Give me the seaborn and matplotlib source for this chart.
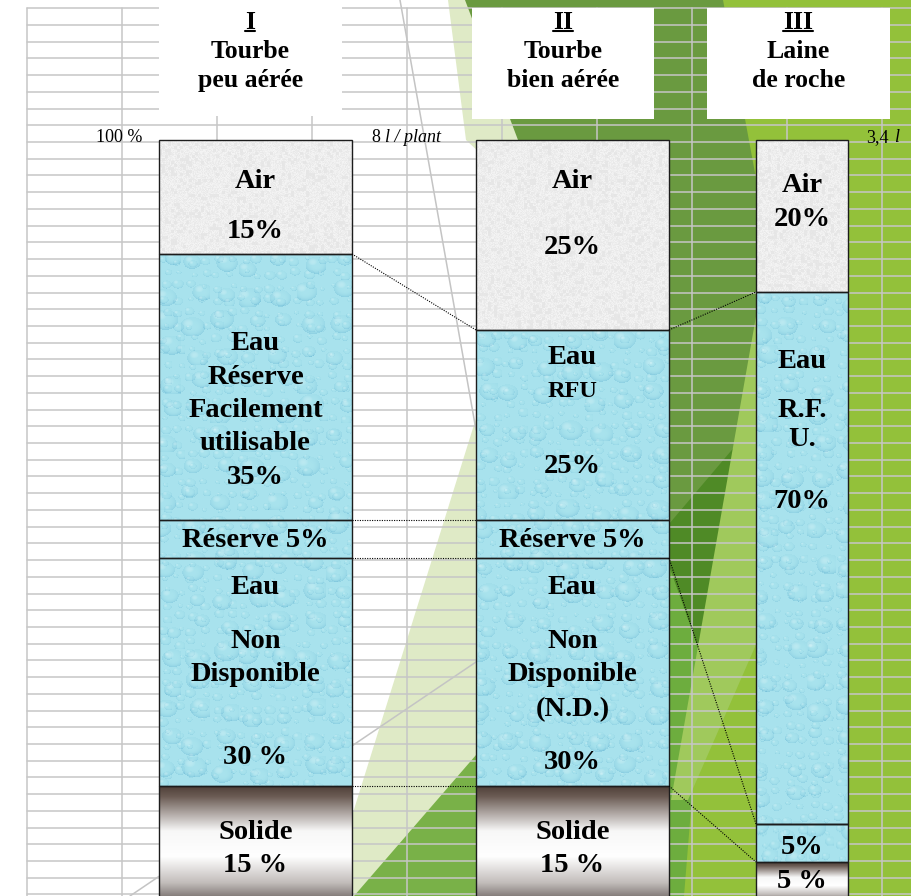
import numpy as np
import matplotlib
matplotlib.use("Agg")
import matplotlib.pyplot as plt
from matplotlib import font_manager as fm
from matplotlib import patheffects as pe
from matplotlib.patches import Polygon, Rectangle
import seaborn as sns

# ---------------------------------------------------------------- data
numerals = ["I", "II", "III"]
substrates = [["Tourbe", "peu aérée"], ["Tourbe", "bien aérée"], ["Laine", "de roche"]]
# share of the substrate volume (%), listed from top to bottom of each column
air = [15, 25, 20]
eau_rfu = [35, 25, 70]
reserve = [5, 5, 0]
eau_nd = [30, 30, 5]
solide = [15, 15, 5]

layers = ["air", "rfu", "reserve", "nd", "solide"]
values = {"air": air, "rfu": eau_rfu, "reserve": reserve, "nd": eau_nd, "solide": solide}

# text lines written in each block: (template, position from the block top, size)
BIG, SMALL = 20.5, 17.5
labels = {
    "air": [
        [("Air", .36, BIG), ("{v}%", .80, BIG)],
        [("Air", .216, BIG), ("{v}%", .568, BIG)],
        [("Air", .30, BIG), ("{v}%", .52, BIG)],
    ],
    "rfu": [
        [("Eau", .338, BIG), ("Réserve", .466, BIG), ("Facilement", .59, BIG),
         ("utilisable", .714, BIG), ("{v}%", .842, BIG)],
        [("Eau", .147, BIG), ("RFU", .326, SMALL), ("{v}%", .716, BIG)],
        [("Eau", .13, BIG), ("R.F.", .222, BIG), ("U.", .278, BIG), ("{v}%", .393, BIG)],
    ],
    "reserve": [
        [("Réserve {v}%", .55, BIG)],
        [("Réserve {v}%", .55, BIG)],
        [],
    ],
    "nd": [
        [("Eau", .13, BIG), ("Non", .368, BIG), ("Disponible", .513, BIG), ("{v} %", .877, BIG)],
        [("Eau", .13, BIG), ("Non", .368, BIG), ("Disponible", .513, BIG),
         ("(N.D.)", .667, BIG), ("{v}%", .899, BIG)],
        [("{v}%", .62, BIG)],
    ],
    "solide": [
        [("Solide", .41, BIG), ("{v} %", .70, BIG)],
        [("Solide", .41, BIG), ("{v} %", .70, BIG)],
        [("{v} %", .50, BIG)],
    ],
}

# ---------------------------------------------------------------- layout
W, H = 912, 896
PX_PER_PCT = 7.6
TOP_PX = 140
bar_left = [159, 476, 756]
bar_width = [193, 193, 92]
centers = [l + w / 2 for l, w in zip(bar_left, bar_width)]

sns.set_theme(style="white")
SERIF = ["Liberation Serif", "DejaVu Serif"]
plt.rcParams["font.family"] = SERIF
plt.rcParams["text.color"] = "black"


def _num_weight(w):
    if isinstance(w, str):
        return fm.weight_dict.get(w, 400)
    return w


HAS_BOLD = any(f.name == "Liberation Serif" and _num_weight(f.weight) >= 600
               for f in fm.fontManager.ttflist)
HEAVY = [pe.withStroke(linewidth=1.1, foreground="black")]


def bold_kw(size):
    """Bold serif text; thickened with a stroke when no bold face is installed."""
    if HAS_BOLD:
        return dict(family=SERIF, fontweight="bold", fontsize=size, color="black")
    return dict(family=SERIF, fontsize=size, path_effects=HEAVY, color="black")


fig = plt.figure(figsize=(W / 100, H / 100), dpi=100)
fig.patch.set_facecolor("white")

# backdrop axes in pixel units (y pointing down)
bg = fig.add_axes([0, 0, 1, 1])
bg.set_xlim(0, W)
bg.set_ylim(H, 0)
bg.axis("off")

# bar axes: x in pixel units, y in percent of volume
ax = fig.add_axes([0, 0, 1, 1], zorder=2)
ax.patch.set_alpha(0)
ax.axis("off")
y_top = 100 + TOP_PX / PX_PER_PCT
y_bot = 100 - (H - TOP_PX) / PX_PER_PCT

# ---- green decorative shapes of the backdrop
shapes = [
    ("#93c13a", [(700, 0), (912, 0), (912, 896), (600, 896)]),
    ("#dfeac6", [(448, 0), (560, 0), (620, 300), (560, 896), (327, 896), (541, 210), (466, 140)]),
    ("#79b148", [(476, 755), (540, 690), (540, 896), (354, 896)]),
    ("#6a9a40", [(465, 0), (723, 0), (760, 200), (760, 310), (671, 785), (560, 500), (518, 140)]),
    ("#4f8a26", [(669, 524), (753, 425), (701, 661), (669, 566)]),
    ("#6dad3e", [(669, 566), (703, 661), (684, 896), (669, 896)]),
    ("#a0c95c", [(758, 305), (758, 640), (688, 800), (671, 800)]),
]
for col, pts in shapes:
    bg.add_patch(Polygon(pts, closed=True, facecolor=col, edgecolor="none", zorder=1))

# thin grey guide strokes
bg.plot([400, 476], [0, 430], color="#c4c4c4", lw=1.1, zorder=1.5)
bg.plot([130, 476], [896, 662], color="#c4c4c4", lw=1.1, zorder=1.5)

# spreadsheet grid
grid_col = "#c6c6c6"
y = 8.3
while y < H:
    bg.plot([27, W], [y, y], color=grid_col, lw=1.1, zorder=2)
    y += 16.72
x = 27
while x < W:
    bg.plot([x, x], [8.3, H], color=grid_col, lw=1.1, zorder=2)
    x += 95

# title boxes
boxes = [(159, 0, 342, 116), (472, 8, 654, 119), (707, 8, 890, 119)]
fig.canvas.draw()
renderer = fig.canvas.get_renderer()
for (x0, y0, x1, y1), num, (l1, l2) in zip(boxes, numerals, substrates):
    bg.add_patch(Rectangle((x0, y0), x1 - x0, y1 - y0, facecolor="white",
                           edgecolor="none", zorder=3))
    cx = (x0 + x1) / 2
    t = bg.text(cx, 29, num, ha="center", va="baseline", zorder=4, **bold_kw(18.5))
    bg.text(cx, 58, l1, ha="center", va="baseline", zorder=4, **bold_kw(18.5))
    bg.text(cx, 87, l2, ha="center", va="baseline", zorder=4, **bold_kw(18.5))
    bb = t.get_window_extent(renderer=renderer)
    (ux0, _), (ux1, _) = bg.transData.inverted().transform([(bb.x0, 0), (bb.x1, 0)])
    bg.plot([ux0, ux1], [31.5, 31.5], color="black", lw=1.5, zorder=4)

# volume captions along the 100 % line
ax.text(142, 100 - 2 / PX_PER_PCT, "100 %", ha="right", va="baseline",
        family=SERIF, fontsize=13, color="black")
bg.text(371, 142, "8", ha="left", va="baseline", family=SERIF, fontsize=13,
        color="black", zorder=4)
bg.text(385, 142, "l / plant", ha="left", va="baseline", family=SERIF, fontsize=13,
        style="italic", color="black", zorder=4)
bg.text(866, 142, "3,4", ha="left", va="baseline", family=SERIF, fontsize=13,
        color="black", zorder=4)
bg.text(894, 142, "l", ha="left", va="baseline", family=SERIF, fontsize=13,
        style="italic", color="black", zorder=4)


# ---------------------------------------------------------------- textures
def hash_noise(a, b, k=0.0):
    v = np.sin(a * 12.9898 + b * 78.233 + k * 37.719) * 43758.5453
    return v - np.floor(v)


def air_texture(h, w, k):
    yy, xx = np.mgrid[0:h, 0:w].astype(float)
    n = hash_noise(xx, yy, k)
    n2 = hash_noise(np.floor(xx / 3), np.floor(yy / 3), k + 5)
    g = 0.935 + 0.05 * (n - 0.5) - 0.06 * (n2 > 0.8) * n
    g = np.clip(g, 0, 1)
    return np.dstack([g, g, g])


def drop_layer(xx, yy, cs, rmin, rmax, k):
    cx = np.floor(xx / cs)
    cy = np.floor(yy / cs)
    h1 = hash_noise(cx, cy, k + 1)
    h2 = hash_noise(cx, cy, k + 2)
    h3 = hash_noise(cx, cy, k + 3)
    px = (cx + 0.25 + 0.5 * h1) * cs
    py = (cy + 0.25 + 0.5 * h2) * cs
    r = rmin + (rmax - rmin) * h3
    dx = (xx - px) / r
    dy = (yy - py) / (r * 0.8)
    d = np.sqrt(dx ** 2 + dy ** 2)
    inside = d < 1
    dark = np.where(inside, np.clip(d ** 3 * (0.6 + 0.4 * dy), 0, 1), 0)
    light = np.where(inside, np.clip(1 - ((dx + 0.35) ** 2 + (dy + 0.4) ** 2) * 5, 0, 1), 0)
    return dark, light


def water_texture(h, w, k):
    yy, xx = np.mgrid[0:h, 0:w].astype(float)
    base = np.array([0.66, 0.89, 0.93])
    deep = np.array([0.46, 0.75, 0.85])
    shine = np.array([0.88, 0.97, 0.98])
    d1, l1 = drop_layer(xx, yy, 13, 2.5, 6.0, k)
    d2, l2 = drop_layer(xx + 7, yy + 5, 29, 7.0, 13.0, k + 11)
    dark = np.clip(0.45 * d1 + 0.55 * d2, 0, 1)[..., None]
    light = np.clip(0.5 * l1 + 0.5 * l2, 0, 1)[..., None]
    img = base + dark * (deep - base) + light * (shine - base) * 0.7
    return np.clip(img, 0, 1)


def solid_texture(h, w, k):
    stops = [0.0, 0.10, 0.40, 0.62, 0.85, 1.0]
    cols = np.array([
        [0.30, 0.24, 0.21],
        [0.42, 0.36, 0.33],
        [0.97, 0.97, 0.97],
        [1.00, 1.00, 1.00],
        [0.76, 0.74, 0.73],
        [0.45, 0.42, 0.41],
    ])
    t = (np.arange(h) + 0.5) / h
    rgb = np.stack([np.interp(t, stops, cols[:, c]) for c in range(3)], axis=1)
    return np.repeat(rgb[:, None, :], w, axis=1)


textures = {"air": air_texture, "rfu": water_texture, "reserve": water_texture,
            "nd": water_texture, "solide": solid_texture}

# ---------------------------------------------------------------- stacked bars
bottom = np.zeros(3)
tops = {}
bottoms = {}
for lay in reversed(layers):
    vals = np.array(values[lay], dtype=float)
    bars = ax.bar(centers, vals, width=bar_width, bottom=bottom, facecolor="none",
                  edgecolor="#1c1c1c", linewidth=1.0, zorder=4)
    for i, p in enumerate(bars.patches):
        if vals[i] <= 0:
            continue
        x0, y0 = p.get_x(), p.get_y()
        w, hgt = p.get_width(), p.get_height()
        hp = max(int(round(hgt * PX_PER_PCT)), 2)
        wp = max(int(round(w)), 2)
        img = textures[lay](hp, wp, i * 3 + layers.index(lay))
        ax.imshow(img, extent=(x0, x0 + w, y0, y0 + hgt), origin="upper",
                  aspect="auto", interpolation="bilinear", zorder=3)
    bottoms[lay] = bottom.copy()
    tops[lay] = bottom + vals
    bottom = bottom + vals

# block texts
for lay in layers:
    for i in range(3):
        v = values[lay][i]
        top = tops[lay][i]
        for tmpl, frac, size in labels[lay][i]:
            ax.text(centers[i], top - frac * v, tmpl.format(v=v), ha="center",
                    va="center", zorder=6, **bold_kw(size))

# dotted links between matching boundaries of neighbouring columns
for i in range(2):
    j = i + 1
    xa = bar_left[i] + bar_width[i]
    xb = bar_left[j]
    for lay in ["air", "rfu", "reserve", "nd"]:
        if lay == "rfu" and (reserve[i] == 0 or reserve[j] == 0):
            continue
        ya = bottoms[lay][i]
        yb = bottoms[lay][j]
        ax.plot([xa, xb], [ya, yb], color="black", lw=0.8, ls=(0, (1, 1.2)), zorder=5)

ax.set_xlim(0, W)
ax.set_ylim(y_bot, y_top)

fig.savefig("out.png", dpi=100)
